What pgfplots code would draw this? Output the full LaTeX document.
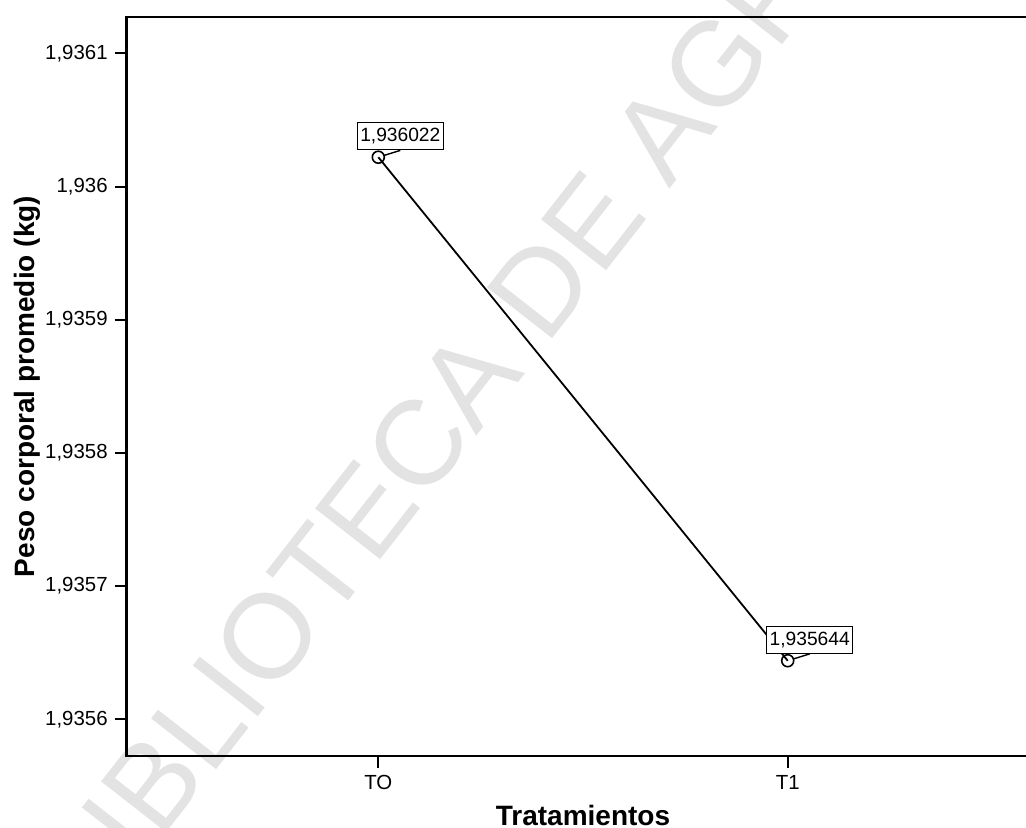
\documentclass[border=0pt]{standalone}
\usepackage{fontspec}
\setmainfont{Liberation Sans}
\usepackage{pgfplots}
\usepackage{pgfplotstable}
\pgfplotsset{compat=1.18}

% Mean body weight per treatment (kg)
\pgfplotstableread{
x peso etiqueta
0 1.936022 1,936022
1 1.935644 1,935644
}\pesos

\begin{document}
\begin{tikzpicture}
% library stamp behind the plot
\node[rotate=52, text=black!11, font=\fontsize{60}{60}\selectfont, anchor=center]
  at (165pt,180.5pt) {BIBLIOTECA DE AGRO};

\begin{axis}[
  at={(0,0)}, anchor=south west,
  scale only axis, width=456.3pt, height=369.5pt,
  xmin=-0.6146, xmax=1.6146,
  % weights differ only in the 4th decimal: shift them to 1e-4 kg units above 1.9356 with exact arithmetic
  y coord trafo/.code={\edef\pgfmathresult{\fpeval{(#1-1.9356)*10000}}},
  ymin=1.93557245, ymax=1.93612725,
  xtick={0,1}, xticklabels={TO,T1},
  ytick={1.9356,1.9357,1.9358,1.9359,1.936,1.9361},
  yticklabels={{1,9356},{1,9357},{1,9358},{1,9359},{1,936},{1,9361}},
  tick align=outside, tick pos=left,
  major tick length=6pt,
  tick style={black, line width=1pt},
  axis line style={black, line width=1.3pt},
  ticklabel style={font=\fontsize{10.2}{12}\selectfont},
  xlabel={Tratamientos},
  ylabel={Peso corporal promedio (kg)},
  label style={font=\fontsize{14}{16}\selectfont\bfseries},
  xlabel style={at={(axis description cs:0.5,0)}, anchor=center, yshift=-29.5pt},
  ylabel style={at={(axis description cs:-0.10925,0.5)}, anchor=center},
]
\addplot[black, line width=0.9pt, mark=o, mark size=3pt,
  mark options={fill=white, line width=0.8pt},
  nodes near coords, point meta=explicit symbolic,
  every node near coord/.style={draw=black, fill=white, line width=0.7pt,
    inner xsep=1.5pt, inner ysep=1pt, minimum height=13.5pt, anchor=center,
    xshift=11pt, yshift=10.5pt, text=black,
    font=\fontsize{9.6}{10}\selectfont,
    append after command={([xshift=-11pt,yshift=-10.5pt]\tikzlastnode.center)
      edge[draw=black, line width=0.7pt, shorten <=3pt] (\tikzlastnode.south)}},
  ] table[x=x, y=peso, meta=etiqueta] {\pesos};
\end{axis}

\pgfresetboundingbox
\path[use as bounding box] (-63.35pt,-35.5pt) rectangle (449.65pt,378pt);
\end{tikzpicture}
\end{document}
